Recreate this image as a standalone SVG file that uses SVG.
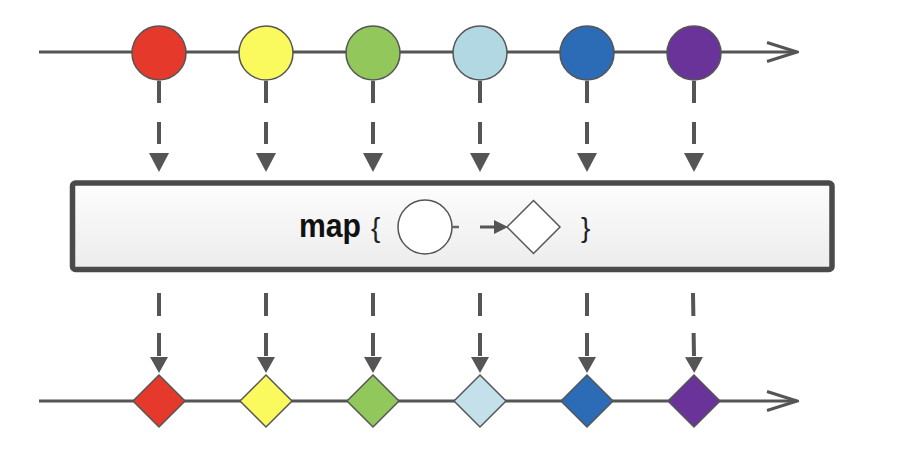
<svg xmlns="http://www.w3.org/2000/svg" width="910" height="476" viewBox="0 0 910 476">
<style>
.axis{stroke:#555;stroke-width:3;fill:none}
.dash-top{stroke:#555;stroke-width:4;fill:none;stroke-dasharray:22 19}
.dash-bot{stroke:#555;stroke-width:4;fill:none;stroke-dasharray:23 17}
.item{stroke:#555;stroke-width:1.5}
.lbl{font-family:"Liberation Sans",Arial,sans-serif;font-weight:bold;font-size:34px;fill:#111}
.brace{font-family:"Liberation Sans",Arial,sans-serif;font-weight:normal;font-size:28px;fill:#222}
</style>
<defs>
<marker id="chev" viewBox="-33 -12 35 24" refX="0" refY="0" markerWidth="35" markerHeight="24" markerUnits="userSpaceOnUse" orient="auto">
<path d="M-30,-9.5 L0,0 L-30,9.5" fill="none" stroke="#555" stroke-width="3"/>
</marker>
<marker id="triTop" viewBox="0 -10 19 20" refX="0" refY="0" markerWidth="19" markerHeight="20" markerUnits="userSpaceOnUse" orient="auto">
<path d="M0,-10 L19,0 L0,10 z" fill="#555"/>
</marker>
<marker id="triBot" viewBox="0 -9 16 18" refX="0" refY="0" markerWidth="16" markerHeight="18" markerUnits="userSpaceOnUse" orient="auto">
<path d="M0,-9 L16,0 L0,9 z" fill="#555"/>
</marker>
<marker id="triSmall" viewBox="0 -7 14 14" refX="0" refY="0" markerWidth="14" markerHeight="14" markerUnits="userSpaceOnUse" orient="auto">
<path d="M0,-7 L14,0 L0,7 z" fill="#555"/>
</marker>
<linearGradient id="boxg" x1="0" y1="0" x2="0" y2="1">
<stop offset="0" stop-color="#fdfdfd"/>
<stop offset="1" stop-color="#ececec"/>
</linearGradient>
</defs>

<g id="connectors">
<path class="axis" d="M39,52 H797" marker-end="url(#chev)"/>
<path class="axis" d="M39,401 H797" marker-end="url(#chev)"/>
<path class="dash-top" d="M159,81 V153" marker-end="url(#triTop)"/>
<path class="dash-top" d="M266,81 V153" marker-end="url(#triTop)"/>
<path class="dash-top" d="M373,81 V153" marker-end="url(#triTop)"/>
<path class="dash-top" d="M480,81 V153" marker-end="url(#triTop)"/>
<path class="dash-top" d="M587,81 V153" marker-end="url(#triTop)"/>
<path class="dash-top" d="M694,81 V153" marker-end="url(#triTop)"/>
<path class="dash-bot" d="M159,293 V357" marker-end="url(#triBot)"/>
<path class="dash-bot" d="M266,293 V357" marker-end="url(#triBot)"/>
<path class="dash-bot" d="M373,293 V357" marker-end="url(#triBot)"/>
<path class="dash-bot" d="M480,293 V357" marker-end="url(#triBot)"/>
<path class="dash-bot" d="M587,293 V357" marker-end="url(#triBot)"/>
<path class="dash-bot" d="M693,293 L694,357" marker-end="url(#triBot)"/>
</g>

<g id="in-red"><circle class="item" cx="159" cy="53" r="27" fill="#e5392c"/></g>
<g id="in-yellow"><circle class="item" cx="266" cy="53" r="27" fill="#fafa5e" stroke="#8a8a50"/></g>
<g id="in-green"><circle class="item" cx="373" cy="53" r="27" fill="#92c75c"/></g>
<g id="in-lightblue"><circle class="item" cx="480" cy="53" r="27" fill="#b2d8e3" stroke="#6f7f85"/></g>
<g id="in-blue"><circle class="item" cx="587" cy="53" r="27" fill="#2c6bb5"/></g>
<g id="in-purple"><circle class="item" cx="694" cy="53" r="27" fill="#6a339a"/></g>

<g id="map-box">
<rect x="72.5" y="183" width="759.5" height="86.5" rx="3" fill="url(#boxg)" stroke="#4a4a4a" stroke-width="5.5"/>
<text class="lbl" x="299" y="237" textLength="62" lengthAdjust="spacingAndGlyphs">map</text>
<text class="brace" x="371" y="237">{</text>
<circle cx="425" cy="227" r="27" fill="#fff" stroke="#555" stroke-width="1.5"/>
<path d="M452,227 H459" stroke="#666" stroke-width="2.5"/>
<path d="M480,227 H494" stroke="#555" stroke-width="3" marker-end="url(#triSmall)"/>
<path d="M507,227 L533.5,200.5 L560,227 L533.5,253.5 Z" fill="#fff" stroke="#555" stroke-width="1.5"/>
<text class="brace" x="581" y="237">}</text>
</g>

<g id="out-red"><path class="item" d="M133,401 L159,375 L185,401 L159,427 Z" fill="#e5392c"/></g>
<g id="out-yellow"><path class="item" d="M240,401 L266,375 L292,401 L266,427 Z" fill="#fafa5e" stroke="#8a8a50"/></g>
<g id="out-green"><path class="item" d="M347,401 L373,375 L399,401 L373,427 Z" fill="#92c75c"/></g>
<g id="out-lightblue"><path class="item" d="M454,401 L480,375 L506,401 L480,427 Z" fill="#c4e1eb" stroke="#8a999e"/></g>
<g id="out-blue"><path class="item" d="M561,401 L587,375 L613,401 L587,427 Z" fill="#2c6bb5"/></g>
<g id="out-purple"><path class="item" d="M668,401 L694,375 L720,401 L694,427 Z" fill="#6a339a"/></g>
</svg>
